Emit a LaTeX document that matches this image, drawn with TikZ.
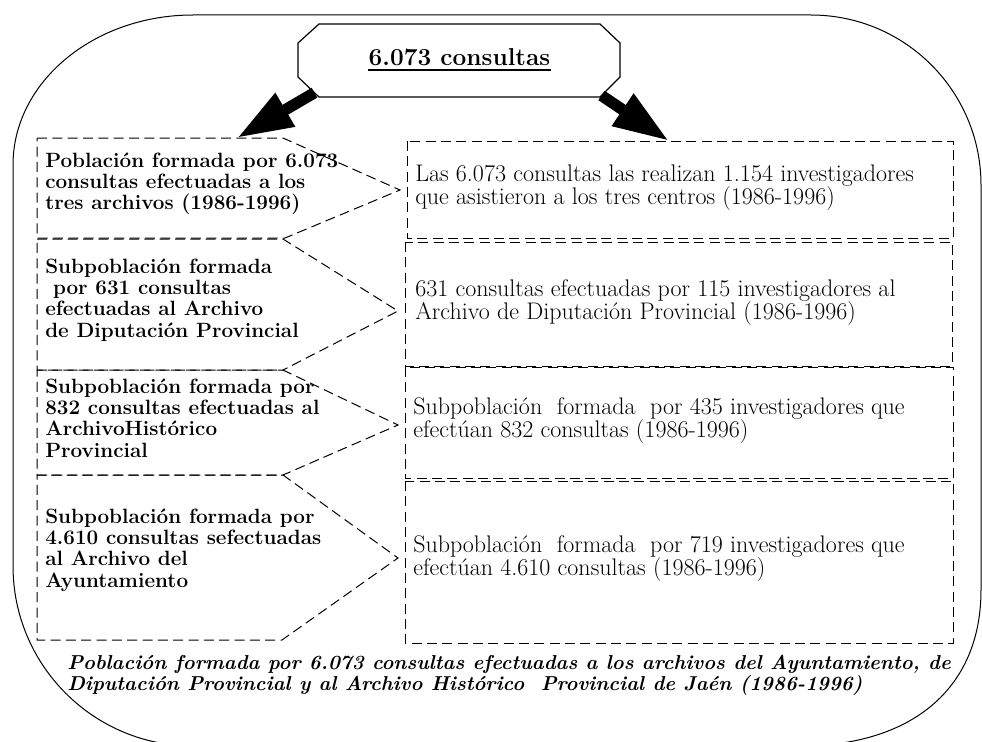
\documentclass[tikz,border=0pt]{standalone}
\usetikzlibrary{arrows.meta}
\newcommand{\mylines}[1]{\vtop{\lineskiplimit=-\maxdimen\halign{##\hfil\cr#1\crcr}}}
\begin{document}
\begin{tikzpicture}[x=0.75pt,y=-0.75pt,
  outer/.style={draw=black, line width=0.75pt},
  octo/.style={draw=black, line width=0.9pt, fill=white},
  dbox/.style={draw=black, line width=0.75pt, dash pattern=on 7.5pt off 4pt},
  bigarrow/.style={line width=8.5pt, -{Triangle[length=42pt,width=27pt]}},
  lefttext/.style={anchor=base west, inner sep=0pt, font=\fontsize{15.5}{16.1}\selectfont\bfseries},
  righttext/.style={anchor=base west, inner sep=0pt, font=\fontsize{18}{17.5}\selectfont},
  foot/.style={anchor=base west, inner sep=0pt, font=\fontsize{15.1}{15.75}\selectfont\bfseries\itshape},
  titletext/.style={anchor=base, inner sep=0pt, font=\fontsize{18.3}{20}\selectfont\bfseries},
]
\useasboundingbox (0,0) rectangle (982,742);
\clip (0,0) rectangle (982,742);

% outer rounded frame
\draw[outer] (193,15) -- (811,15)
  .. controls (904.9,15) and (981,91.1) .. (981,185)
  -- (981,590)
  .. controls (981,690) and (910,746) .. (800,746)
  -- (193,746)
  .. controls (93.6,746) and (13,665.4) .. (13,566)
  -- (13,165)
  .. controls (13,82.2) and (93.6,15) .. cycle;

% top octagon
\draw[octo] (319,24) -- (600,24) -- (620,43) -- (620,77) -- (600,97)
  -- (319,97) -- (298,77) -- (298,43) -- cycle;
\node[titletext] (title) at (459.5,65) {6.073 consultas};
\draw[line width=1.5pt] ([yshift=-3.9pt]title.base west) -- ([yshift=-3.9pt]title.base east);

% left boxes (pointed)
\draw[dbox] (37,138) -- (283,138) -- (400,190) -- (285,238) -- (37,238) -- cycle;
\draw[dbox] (37,239) -- (283,239) -- (398,311) -- (283,370) -- (37,370) -- cycle;
\draw[dbox] (37,370) -- (283,370) -- (398,425) -- (283,475) -- (37,475) -- cycle;
\draw[dbox] (37,475) -- (283,475) -- (398,558) -- (282,640) -- (37,640) -- cycle;

% right boxes
\draw[dbox] (407,141) rectangle (953,238);
\draw[dbox] (405,242) rectangle (952,366);
\draw[dbox] (405,367) rectangle (953,478);
\draw[dbox] (405,481) rectangle (953,643);

% arrows
\coordinate (la0) at (314.5,92.7);
\coordinate (la1) at (237,138);
\coordinate (ra0) at (601.5,95.5);
\coordinate (ra1) at (669,141);
\draw[bigarrow] (la0) -- (la1);
\draw[bigarrow] (ra0) -- (ra1);

% left texts
\node[lefttext] (l1) at (45,167) {\mylines{Población formada por 6.073\cr consultas efectuadas a los\cr tres archivos (1986-1996)}};
\node[lefttext] (l2) at (45,273) {\mylines{Subpoblación formada\cr \ por 631 consultas\cr efectuadas al Archivo\cr de Diputación Provincial}};
\node[lefttext] (l3) at (45,393) {\mylines{Subpoblación formada por\cr 832 consultas efectuadas al\cr ArchivoHistórico\cr Provincial}};
\node[lefttext] (l4) at (45,523) {\mylines{Subpoblación formada por\cr 4.610 consultas sefectuadas\cr al Archivo del\cr Ayuntamiento}};

% right texts
\node[righttext] (r1) at (415,181) {\mylines{Las 6.073 consultas las realizan 1.154 investigadores\cr que asistieron a los tres centros (1986-1996)}};
\node[righttext] (r2) at (415,296) {\mylines{631 consultas efectuadas por 115 investigadores al\cr Archivo de Diputación Provincial (1986-1996)}};
\node[righttext] (r3) at (413,414) {\mylines{Subpoblación\ \ formada\ \ por 435 investigadores que\cr efectúan 832 consultas (1986-1996)}};
\node[righttext] (r4) at (413,552) {\mylines{Subpoblación\ \ formada\ \ por 719 investigadores que\cr efectúan 4.610 consultas (1986-1996)}};

% footer
\node[foot] (f) at (67,669) {\mylines{Población formada por 6.073 consultas efectuadas a los archivos del Ayuntamiento, de\cr Diputación Provincial y al Archivo Histórico\ \ Provincial de Jaén (1986-1996)}};
\end{tikzpicture}
\end{document}
